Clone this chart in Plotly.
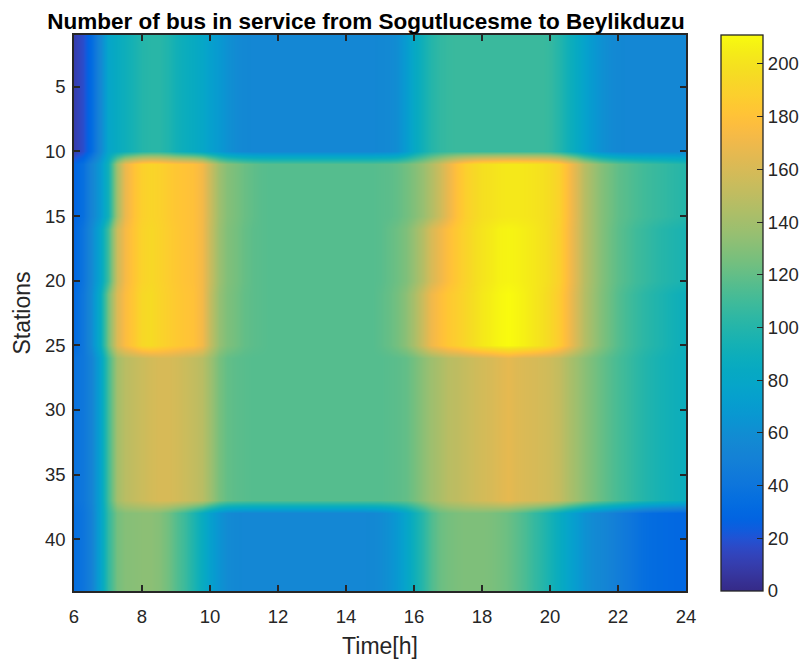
import plotly.graph_objects as go

# ---- data -----------------------------------------------------------------
hours = [6 + 0.25 * i for i in range(73)]          # 6.00 ... 24.00
stations = list(range(1, 45))

# bus counts per time step for each group of stations
top_band = [10, 18, 32, 55, 78, 85, 90, 95, 100, 102, 102, 98, 92, 88, 85, 80,
            74, 68, 62, 58, 56, 55, 55, 55, 55, 55, 55, 55, 55, 55, 55, 55,
            55, 55, 55, 55, 56, 57, 60, 70, 82, 92, 100, 105, 107, 108, 108, 108,
            108, 108, 108, 108, 108, 108, 108, 108, 106, 100, 92, 84, 76, 68, 62, 58,
            56, 55, 55, 55, 55, 55, 55, 55, 55]
mid_a = [28, 36, 52, 68, 92, 140, 168, 181, 189, 192, 190, 186, 183, 181, 179, 172,
         155, 138, 130, 126, 122, 119, 117, 116, 116, 116, 116, 116, 116, 116, 116, 116,
         116, 116, 116, 116, 117, 118, 120, 124, 129, 136, 145, 156, 168, 180, 188, 194,
         198, 200, 202, 203, 203, 202, 201, 199, 196, 190, 178, 163, 148, 138, 130, 124,
         119, 116, 113, 110, 108, 106, 104, 102, 100]
mid_b = [30, 40, 56, 78, 110, 155, 173, 183, 191, 194, 191, 187, 184, 181, 179, 172,
         154, 137, 129, 125, 121, 118, 117, 116, 116, 116, 116, 116, 116, 116, 116, 116,
         116, 116, 116, 116, 117, 120, 123, 128, 136, 147, 160, 170, 178, 185, 191, 197,
         201, 204, 207, 208, 207, 205, 203, 200, 196, 189, 177, 162, 148, 138, 130, 123,
         118, 114, 110, 107, 104, 101, 99, 97, 95]
mid_c = [32, 42, 58, 85, 125, 162, 176, 185, 194, 196, 192, 188, 185, 182, 180, 172,
         152, 135, 128, 124, 120, 118, 117, 116, 116, 116, 116, 116, 116, 116, 116, 116,
         116, 116, 116, 116, 118, 121, 125, 132, 142, 156, 170, 178, 184, 188, 193, 198,
         203, 206, 209, 211, 209, 206, 203, 199, 194, 186, 175, 160, 147, 137, 129, 122,
         116, 111, 107, 103, 100, 97, 94, 91, 89]
third_band = [38, 42, 52, 75, 110, 140, 148, 152, 155, 158, 160, 160, 158, 155, 152, 148,
              138, 126, 120, 118, 117, 116, 116, 116, 116, 116, 116, 116, 116, 116, 116, 116,
              116, 116, 116, 116, 116, 117, 118, 120, 125, 132, 138, 143, 148, 150, 153, 156,
              158, 160, 163, 166, 163, 161, 160, 158, 156, 152, 145, 138, 132, 126, 121, 116,
              112, 108, 104, 100, 97, 94, 92, 90, 88]
bottom_band = [35, 40, 50, 75, 105, 125, 130, 131, 132, 132, 130, 124, 116, 108, 98, 86,
               74, 64, 58, 56, 55, 55, 55, 55, 55, 55, 55, 55, 55, 55, 55, 55,
               55, 55, 55, 56, 58, 62, 68, 78, 90, 102, 114, 122, 125, 127, 128, 128,
               128, 127, 125, 122, 118, 113, 107, 101, 94, 86, 78, 70, 63, 58, 55, 51,
               47, 43, 39, 35, 33, 32, 31, 30, 30]

# which group each station (1..44) belongs to
station_group = (["top"] * 10 + ["mid_a"] * 5 + ["mid_b"] * 5 + ["mid_c"] * 5 +
                 ["third"] * 12 + ["bottom"] * 7)
groups = {"top": top_band, "mid_a": mid_a, "mid_b": mid_b, "mid_c": mid_c,
          "third": third_band, "bottom": bottom_band}
z = [groups[g] for g in station_group]

colorbar_ticks = [0, 20, 40, 60, 80, 100, 120, 140, 160, 180, 200]
x_ticks = [6, 8, 10, 12, 14, 16, 18, 20, 22, 24]
y_ticks = [5, 10, 15, 20, 25, 30, 35, 40]

# ---- parula colour map ------------------------------------------------------
parula = [
    [0.2081, 0.1663, 0.5292], [0.2116, 0.1898, 0.5777], [0.2123, 0.2138, 0.6270],
    [0.2081, 0.2386, 0.6771], [0.1959, 0.2645, 0.7279], [0.1707, 0.2919, 0.7792],
    [0.1253, 0.3242, 0.8303], [0.0591, 0.3598, 0.8683], [0.0117, 0.3875, 0.8820],
    [0.0060, 0.4086, 0.8828], [0.0165, 0.4266, 0.8786], [0.0329, 0.4430, 0.8720],
    [0.0498, 0.4586, 0.8641], [0.0629, 0.4737, 0.8554], [0.0723, 0.4887, 0.8467],
    [0.0779, 0.5040, 0.8384], [0.0793, 0.5200, 0.8312], [0.0749, 0.5375, 0.8263],
    [0.0641, 0.5570, 0.8240], [0.0488, 0.5772, 0.8228], [0.0343, 0.5966, 0.8199],
    [0.0265, 0.6137, 0.8135], [0.0239, 0.6287, 0.8038], [0.0231, 0.6418, 0.7913],
    [0.0228, 0.6535, 0.7768], [0.0267, 0.6642, 0.7607], [0.0384, 0.6743, 0.7436],
    [0.0590, 0.6838, 0.7254], [0.0843, 0.6928, 0.7062], [0.1133, 0.7015, 0.6859],
    [0.1453, 0.7098, 0.6646], [0.1801, 0.7177, 0.6424], [0.2178, 0.7250, 0.6193],
    [0.2586, 0.7317, 0.5954], [0.3022, 0.7376, 0.5712], [0.3482, 0.7424, 0.5473],
    [0.3953, 0.7459, 0.5244], [0.4420, 0.7481, 0.5033], [0.4871, 0.7491, 0.4840],
    [0.5300, 0.7491, 0.4661], [0.5709, 0.7485, 0.4494], [0.6099, 0.7473, 0.4337],
    [0.6473, 0.7456, 0.4188], [0.6834, 0.7435, 0.4044], [0.7184, 0.7411, 0.3905],
    [0.7525, 0.7384, 0.3768], [0.7858, 0.7356, 0.3633], [0.8185, 0.7327, 0.3498],
    [0.8507, 0.7299, 0.3360], [0.8824, 0.7274, 0.3217], [0.9139, 0.7258, 0.3063],
    [0.9450, 0.7261, 0.2886], [0.9739, 0.7314, 0.2666], [0.9938, 0.7455, 0.2403],
    [0.9990, 0.7653, 0.2164], [0.9955, 0.7861, 0.1967], [0.9880, 0.8066, 0.1794],
    [0.9789, 0.8271, 0.1633], [0.9697, 0.8481, 0.1475], [0.9626, 0.8705, 0.1309],
    [0.9589, 0.8949, 0.1132], [0.9598, 0.9218, 0.0948], [0.9661, 0.9514, 0.0755],
    [0.9763, 0.9831, 0.0538]]
n = len(parula)
colorscale = [[i / (n - 1), "rgb(%d,%d,%d)" % tuple(round(c * 255) for c in rgb)]
              for i, rgb in enumerate(parula)]

# ---- figure -----------------------------------------------------------------
FONT = "Liberation Sans, Arial, Helvetica, sans-serif"
TXT = "#262626"
OFF = 8  # the page body has an 8px default margin; compensate for it

fig = go.Figure(go.Heatmap(
    x=hours, y=stations, z=z,
    zmin=0, zmax=211, zsmooth="best",
    colorscale=colorscale,
    colorbar=dict(
        x=(721 - 74) / 612, xanchor="left", xpad=0, y=0.5, yanchor="middle",
        len=1.0, lenmode="fraction", ypad=0,
        thickness=42, thicknessmode="pixels",
        outlinewidth=1.3, outlinecolor=TXT,
        tickvals=colorbar_ticks, ticks="inside", ticklen=6, tickwidth=1.3,
        tickcolor=TXT,
        tickfont=dict(family=FONT, size=18.5, color=TXT),
    ),
))

axis_common = dict(
    showline=True, linecolor=TXT, linewidth=1.5, mirror="ticks",
    ticks="inside", ticklen=6, tickwidth=1.5, tickcolor=TXT,
    showgrid=False, zeroline=False, automargin=False,
    tickfont=dict(family=FONT, size=18.5, color=TXT),
)

fig.update_layout(
    width=811, height=669,
    margin=dict(l=74 - OFF, r=125 + OFF, t=35 - OFF, b=78 + OFF, autoexpand=False),
    paper_bgcolor="white", plot_bgcolor="white",
    title=dict(text="<b>Number of bus in service from Sogutlucesme to Beylikduzu</b>",
               x=(366 - OFF) / 811, xanchor="center", y=1 - (21 - OFF) / 669,
               yanchor="middle", automargin=False,
               font=dict(family=FONT, size=22.5, color="black")),
    xaxis=dict(range=[6, 24], tickvals=x_ticks, ticklabelstandoff=8,
               title=dict(text="Time[h]", font=dict(family=FONT, size=23, color=TXT),
                          standoff=12),
               **axis_common),
    yaxis=dict(range=[44, 1], tickvals=y_ticks, ticklabelstandoff=3,
               title=dict(text="Stations", font=dict(family=FONT, size=23, color=TXT),
                          standoff=8),
               **axis_common),
)

fig.write_html("out.html")
